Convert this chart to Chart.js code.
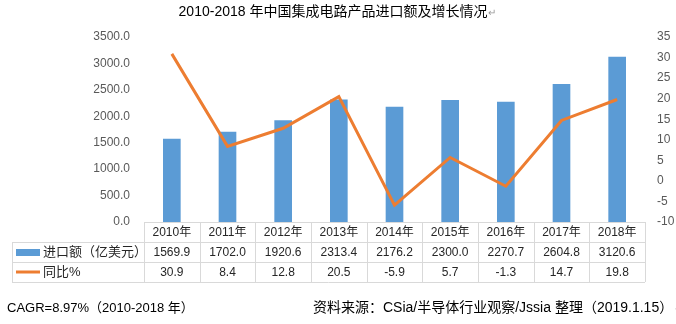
<!DOCTYPE html>
<html>
<head>
<meta charset="utf-8">
<script src="https://cdn.jsdelivr.net/npm/chart.js@4"></script>
<style>
  html, body { margin: 0; padding: 0; background: #fff; }
  #wrap { width: 676px; height: 324px; }
</style>
</head>
<body>
<div id="wrap"><canvas id="myChart1" width="676" height="324"></canvas></div>
<script>
const years = ['2010年', '2011年', '2012年', '2013年', '2014年', '2015年', '2016年', '2017年', '2018年']
const imports = [1569.9, 1702.0, 1920.6, 2313.4, 2176.2, 2300.0, 2270.7, 2604.8, 3120.6]
const growth = [30.9, 8.4, 12.8, 20.5, -5.9, 5.7, -1.3, 14.7, 19.8]

const barLabel = '进口额（亿美元）'
const lineLabel = '同比%'
const titleText = '2010-2018 年中国集成电路产品进口额及增长情况'
const noteLeft = 'CAGR=8.97%（2010-2018 年）'
const noteRight = '资料来源：CSia/半导体行业观察/Jssia 整理（2019.1.15）'

const blue = '#5B9BD5'
const orange = '#ED7D31'
const fontFam = '"Liberation Sans", "Noto Sans CJK SC", sans-serif'

// table + title + notes drawn under the plot
const tablePlugin = {
  id: 'tablePlugin',
  afterDraw(chart) {
    const ctx = chart.ctx
    const x = chart.scales.x
    const w = x.getPixelForValue(1) - x.getPixelForValue(0)
    const left = x.getPixelForValue(0) - w / 2
    const right = left + w * years.length
    const rows = [222, 242, 262, 282]

    ctx.save()
    ctx.strokeStyle = '#D9D9D9'
    ctx.lineWidth = 1
    ctx.beginPath()
    ctx.moveTo(left, rows[0] + 0.5); ctx.lineTo(right, rows[0] + 0.5)
    for (let r = 1; r < 4; r++) {
      ctx.moveTo(12, rows[r] + 0.5); ctx.lineTo(right, rows[r] + 0.5)
    }
    ctx.moveTo(12.5, rows[1]); ctx.lineTo(12.5, rows[3])
    for (let i = 0; i <= years.length; i++) {
      const px = Math.round(left + i * w) + 0.5
      ctx.moveTo(px, rows[0]); ctx.lineTo(px, rows[3])
    }
    ctx.stroke()

    ctx.fillStyle = '#262626'
    ctx.font = '12px ' + fontFam
    ctx.textAlign = 'center'
    ctx.textBaseline = 'middle'
    years.forEach((y, i) => {
      const cx = x.getPixelForValue(i)
      ctx.fillText(y, cx, 232.5)
      ctx.fillText(imports[i].toFixed(1), cx, 252.5)
      ctx.fillText(growth[i].toFixed(1), cx, 272.5)
    })

    // legend keys
    ctx.fillStyle = blue
    ctx.fillRect(16, 249, 24, 7)
    ctx.strokeStyle = orange
    ctx.lineWidth = 3
    ctx.beginPath()
    ctx.moveTo(16, 272); ctx.lineTo(40, 272)
    ctx.stroke()
    ctx.fillStyle = '#262626'
    ctx.textAlign = 'left'
    ctx.font = '13px ' + fontFam
    ctx.fillText(barLabel, 43, 252.5)
    ctx.fillText(lineLabel, 43, 272.5)

    // title
    ctx.fillStyle = '#000'
    ctx.font = '14px ' + fontFam
    ctx.textAlign = 'center'
    ctx.fillText(titleText, 333, 12)
    const tw = ctx.measureText(titleText).width
    ctx.fillStyle = '#999'
    ctx.font = '10px ' + fontFam
    ctx.textAlign = 'left'
    ctx.fillText('↵', 333 + tw / 2 + 1, 13)

    // notes
    ctx.fillStyle = '#000'
    ctx.font = '13px ' + fontFam
    ctx.fillText(noteLeft, 7, 308)
    ctx.font = '14px ' + fontFam
    ctx.fillText(noteRight, 313, 308)
    const nw = ctx.measureText(noteRight).width
    ctx.fillStyle = '#999'
    ctx.font = '10px ' + fontFam
    ctx.fillText('↵', 313 + nw + 2, 309)
    ctx.restore()
  }
}

const data = {
  labels: years,
  datasets: [{
    type: 'line',
    label: lineLabel,
    data: growth,
    yAxisID: 'y1',
    borderColor: orange,
    backgroundColor: orange,
    borderWidth: 3,
    pointRadius: 0,
    tension: 0,
    order: 0
  }, {
    type: 'bar',
    label: barLabel,
    data: imports,
    yAxisID: 'y',
    backgroundColor: blue,
    barThickness: 17,
    order: 1
  }]
}

const config = {
  data: data,
  plugins: [tablePlugin],
  options: {
    responsive: false,
    animation: false,
    layout: { padding: { top: 37, bottom: 102, left: 0, right: 0 } },
    plugins: {
      legend: { display: false },
      title: { display: false },
      tooltip: { enabled: false }
    },
    scales: {
      x: {
        display: false,
        offset: true
      },
      y: {
        position: 'left',
        min: 0,
        max: 3500,
        grid: { display: false, drawTicks: false },
        border: { display: false },
        ticks: {
          stepSize: 500,
          padding: 14,
          color: '#595959',
          font: { size: 12, family: fontFam },
          callback: v => v.toFixed(1)
        },
        afterFit: s => { s.width = 144 }
      },
      y1: {
        position: 'right',
        min: -10,
        max: 35,
        grid: { display: false, drawTicks: false },
        border: { display: false },
        ticks: {
          stepSize: 5,
          padding: 12,
          color: '#595959',
          font: { size: 12, family: fontFam }
        },
        afterFit: s => { s.width = 31 }
      }
    }
  }
}

const ctx1 = document.getElementById('myChart1')
new Chart(ctx1, config)
</script>
</body>
</html>
